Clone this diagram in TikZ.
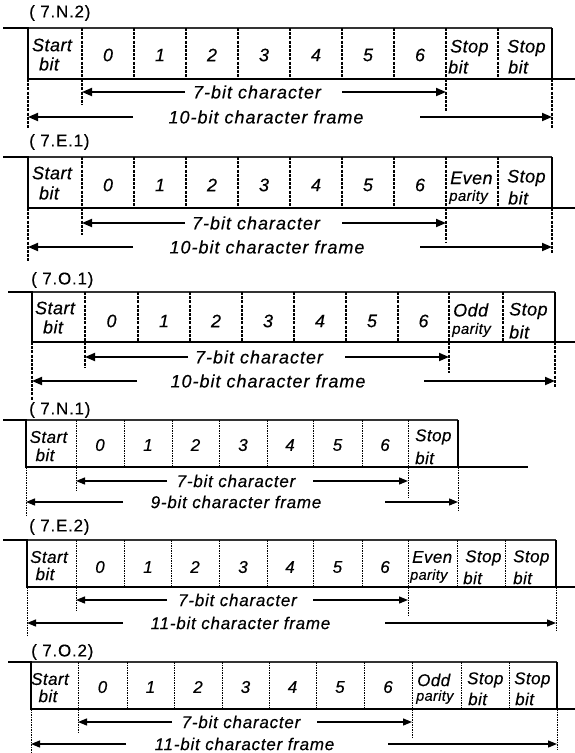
\documentclass[tikz,border=0pt]{standalone}
\usepackage{fontspec}
\setmainfont{Liberation Sans}
\newfontfamily\spfont{Liberation Sans}[LetterSpace=5.5,FakeBold=0.35]
\newfontfamily\spfontB{Liberation Sans}[LetterSpace=4.5,FakeBold=0.3]
\newfontfamily\cellfont{Liberation Sans}[LetterSpace=2.5,FakeBold=0.35]
\usetikzlibrary{arrows.meta}
\tikzset{
  sigA/.style={line width=2.6pt},
  sigB/.style={line width=2.1pt},
  topA/.style={line width=2pt, draw=black!80},
  topB/.style={line width=1.8pt, draw=black!80},
  edgeA/.style={line width=2.8pt},
  edgeB/.style={line width=2.4pt},
  divA/.style={line width=1.6pt, dash pattern=on 3pt off 1.2pt},
  divB/.style={line width=1pt, dash pattern=on 1.5pt off 1pt},
  arrA/.style={line width=1.8pt, -{Triangle[length=10pt,width=8pt]}},
  arrB/.style={line width=1.3pt, -{Triangle[length=9pt,width=7pt]}},
  ttl/.style={font=\spfontB\fontsize{17}{20}\selectfont, inner sep=0pt, anchor=west},
  txA/.style={font=\spfont\itshape\fontsize{18}{20}\selectfont, inner sep=0pt},
  txB/.style={font=\spfontB\itshape\fontsize{17}{19}\selectfont, inner sep=0pt},
  clA/.style={font=\cellfont\itshape\fontsize{18}{20}\selectfont, inner sep=0pt},
  clB/.style={font=\cellfont\itshape\fontsize{17}{19}\selectfont, inner sep=0pt},
  smA/.style={font=\cellfont\itshape\fontsize{15}{17}\selectfont, inner sep=0pt},
  smB/.style={font=\cellfont\itshape\fontsize{14.5}{17}\selectfont, inner sep=0pt},
}
\begin{document}
\begin{tikzpicture}[x=1pt,y=-1pt]
\useasboundingbox (0,0) rectangle (575,753);
% ================= Panel 1 (7.N.2)
\node[ttl] (p1lab) at (29,13) {( 7.N.2)};
\draw[topA] (28,28) -- (552,28);
\foreach \x in {82,134,186,238,290,342,394,446,498} \draw[divA] (\x,28) -- (\x,79);
\draw[sigA] (3,28) -- (28,28) -- (28,79) -- (575,79);
\draw[edgeA] (552,28) -- (552,79);
\node[clA] (p1s1) at (52,45) {Start};
\node[clA] (p1s2) at (49,64) {bit};
\foreach \x [count=\i from 0] in {108,160,212,264,316,368,420}
  \node[clA] (p1d\i) at (\x,55) {\i};
\node[clA,anchor=west] (p1a1) at (450,48) {Stop};
\node[clA,anchor=west] (p1a2) at (448,67) {bit};
\node[clA,anchor=west] (p1b1) at (507,48) {Stop};
\node[clA,anchor=west] (p1b2) at (508,67) {bit};
\draw[divA] (82,79) -- (82,105);
\draw[divA] (446,79) -- (446,112);
\draw[divA] (28,79) -- (28,129);
\draw[divA] (552,79) -- (552,128);
\node[txA] (p1c) at (257,92) {7-bit character};
\node[txA] (p1f) at (266,117) {10-bit character frame};
\coordinate (p1c1) at (185,92); \coordinate (p1c2) at (82,92);
\coordinate (p1c3) at (342,92); \coordinate (p1c4) at (446,92);
\coordinate (p1f1) at (133,117); \coordinate (p1f2) at (28,117);
\coordinate (p1f3) at (420,117); \coordinate (p1f4) at (552,117);
\draw[arrA] (p1c1) -- (p1c2);
\draw[arrA] (p1c3) -- (p1c4);
\draw[arrA] (p1f1) -- (p1f2);
\draw[arrA] (p1f3) -- (p1f4);
% ================= Panel 2 (7.E.1)
\node[ttl] (p2lab) at (29,142) {( 7.E.1)};
\draw[topA] (28,157) -- (552,157);
\foreach \x in {82,134,186,238,290,342,394,446,498} \draw[divA] (\x,157) -- (\x,208);
\draw[sigA] (3,157) -- (28,157) -- (28,208) -- (575,208);
\draw[edgeA] (552,157) -- (552,208);
\node[clA] (p2s1) at (52,173) {Start};
\node[clA] (p2s2) at (49,193) {bit};
\foreach \x [count=\i from 0] in {108,160,212,264,316,368,420}
  \node[clA] (p2d\i) at (\x,185) {\i};
\node[clA,anchor=west] (p2a1) at (450,178) {Even};
\node[smA,anchor=west] (p2a2) at (449,197) {parity};
\node[clA,anchor=west] (p2b1) at (507,178) {Stop};
\node[clA,anchor=west] (p2b2) at (508,198) {bit};
\draw[divA] (82,208) -- (82,235);
\draw[divA] (446,208) -- (446,242);
\draw[divA] (28,208) -- (28,262);
\draw[divA] (552,208) -- (552,253);
\node[txA] (p2c) at (256,223) {7-bit character};
\node[txA] (p2f) at (267,247) {10-bit character frame};
\coordinate (p2c1) at (185,223); \coordinate (p2c2) at (82,223);
\coordinate (p2c3) at (342,223); \coordinate (p2c4) at (446,223);
\coordinate (p2f1) at (133,247); \coordinate (p2f2) at (28,247);
\coordinate (p2f3) at (420,247); \coordinate (p2f4) at (552,247);
\draw[arrA] (p2c1) -- (p2c2);
\draw[arrA] (p2c3) -- (p2c4);
\draw[arrA] (p2f1) -- (p2f2);
\draw[arrA] (p2f3) -- (p2f4);
% ================= Panel 3 (7.O.1)
\node[ttl] (p3lab) at (31,280) {( 7.O.1)};
\draw[topA] (32,292) -- (555,292);
\foreach \x in {85,138,190,242,294,346,398,449,503} \draw[divA] (\x,292) -- (\x,342);
\draw[sigA] (8,292) -- (32,292) -- (32,342) -- (575,342);
\draw[edgeA] (555,292) -- (555,342);
\node[clA] (p3s1) at (55,308) {Start};
\node[clA] (p3s2) at (53,327) {bit};
\foreach \x [count=\i from 0] in {111.5,164,216,268,320,372,423.5}
  \node[clA] (p3d\i) at (\x,321) {\i};
\node[clA,anchor=west] (p3a1) at (453,310) {Odd};
\node[smA,anchor=west] (p3a2) at (452,330) {parity};
\node[clA,anchor=west] (p3b1) at (509,311) {Stop};
\node[clA,anchor=west] (p3b2) at (509,332) {bit};
\draw[divA] (85,342) -- (85,368);
\draw[divA] (449,342) -- (449,373);
\draw[divA] (32,342) -- (32,400);
\draw[divA] (555,342) -- (555,388);
\node[txA] (p3c) at (259,357) {7-bit character};
\node[txA] (p3f) at (268,381) {10-bit character frame};
\coordinate (p3c1) at (188,357); \coordinate (p3c2) at (85,357);
\coordinate (p3c3) at (345,357); \coordinate (p3c4) at (449,357);
\coordinate (p3f1) at (137,381); \coordinate (p3f2) at (32,381);
\coordinate (p3f3) at (424,381); \coordinate (p3f4) at (555,381);
\draw[arrA] (p3c1) -- (p3c2);
\draw[arrA] (p3c3) -- (p3c4);
\draw[arrA] (p3f1) -- (p3f2);
\draw[arrA] (p3f3) -- (p3f4);
% ================= Panel 4 (7.N.1)
\node[ttl] (p4lab) at (29,410) {( 7.N.1)};
\draw[topB] (26,420) -- (458,420);
\foreach \x in {76,124,172,219,267,313,362,408} \draw[divB] (\x,420) -- (\x,467);
\draw[sigB] (3,420) -- (26,420) -- (26,467) -- (528,467);
\draw[edgeB] (458,420) -- (458,467);
\node[clB] (p4s1) at (48.5,437) {Start};
\node[clB] (p4s2) at (45,455) {bit};
\foreach \x [count=\i from 0] in {100,148,195.5,243,290,337.5,385}
  \node[clB] (p4d\i) at (\x,445) {\i};
\node[clB,anchor=west] (p4a1) at (415,437) {Stop};
\node[clB,anchor=west] (p4a2) at (415,458) {bit};
\draw[divB] (76,467) -- (76,492);
\draw[divB] (408,467) -- (408,498);
\draw[divB] (26,467) -- (26,515);
\draw[divB] (458,467) -- (458,512);
\node[txB] (p4c) at (236,481) {7-bit character};
\node[txB] (p4f) at (236,502) {9-bit character frame};
\coordinate (p4c1) at (167,481); \coordinate (p4c2) at (76,481);
\coordinate (p4c3) at (313,481); \coordinate (p4c4) at (408,481);
\coordinate (p4f1) at (123,502); \coordinate (p4f2) at (26,502);
\coordinate (p4f3) at (385,502); \coordinate (p4f4) at (458,502);
\draw[arrB] (p4c1) -- (p4c2);
\draw[arrB] (p4c3) -- (p4c4);
\draw[arrB] (p4f1) -- (p4f2);
\draw[arrB] (p4f3) -- (p4f4);
% ================= Panel 5 (7.E.2)
\node[ttl] (p5lab) at (29,527) {( 7.E.2)};
\draw[topB] (27,540) -- (556,540);
\foreach \x in {76,124,171,219,267,313,362,408,457,505} \draw[divB] (\x,540) -- (\x,587);
\draw[sigB] (3,540) -- (27,540) -- (27,587) -- (575,587);
\draw[edgeB] (556,540) -- (556,587);
\node[clB] (p5s1) at (49,557) {Start};
\node[clB] (p5s2) at (45,574) {bit};
\foreach \x [count=\i from 0] in {100,148,195,243,290,337.5,385}
  \node[clB] (p5d\i) at (\x,567) {\i};
\node[clB,anchor=west] (p5a1) at (412,557) {Even};
\node[smB,anchor=west] (p5a2) at (410,576) {parity};
\node[clB,anchor=west] (p5b1) at (465,558) {Stop};
\node[clB,anchor=west] (p5b2) at (463,578) {bit};
\node[clB,anchor=west] (p5e1) at (513,558) {Stop};
\node[clB,anchor=west] (p5e2) at (513,578) {bit};
\draw[divB] (76,587) -- (76,610);
\draw[divB] (408,587) -- (408,617);
\draw[divB] (27,587) -- (27,635);
\draw[divB] (556,587) -- (556,632);
\node[txB] (p5c) at (237.5,600) {7-bit character};
\node[txB] (p5f) at (240.5,623) {11-bit character frame};
\coordinate (p5c1) at (167,600); \coordinate (p5c2) at (76,600);
\coordinate (p5c3) at (313,600); \coordinate (p5c4) at (408,600);
\coordinate (p5f1) at (123,623); \coordinate (p5f2) at (27,623);
\coordinate (p5f3) at (385,623); \coordinate (p5f4) at (556,623);
\draw[arrB] (p5c1) -- (p5c2);
\draw[arrB] (p5c3) -- (p5c4);
\draw[arrB] (p5f1) -- (p5f2);
\draw[arrB] (p5f3) -- (p5f4);
% ================= Panel 6 (7.O.2)
\node[ttl] (p6lab) at (31,652) {( 7.O.2)};
\draw[topB] (31,662) -- (557,662);
\foreach \x in {78,127,174,222,269,316,364,412,461,509} \draw[divB] (\x,662) -- (\x,709);
\draw[sigB] (8,662) -- (31,662) -- (31,709) -- (575,709);
\draw[edgeB] (557,662) -- (557,709);
\node[clB] (p6s1) at (50,679) {Start};
\node[clB] (p6s2) at (48,696) {bit};
\foreach \x [count=\i from 0] in {102.5,150.5,198,245.5,292.5,340,388}
  \node[clB] (p6d\i) at (\x,687) {\i};
\node[clB,anchor=west] (p6a1) at (417,680) {Odd};
\node[smB,anchor=west] (p6a2) at (416,697) {parity};
\node[clB,anchor=west] (p6b1) at (467,680) {Stop};
\node[clB,anchor=west] (p6b2) at (468,699) {bit};
\node[clB,anchor=west] (p6e1) at (514,680) {Stop};
\node[clB,anchor=west] (p6e2) at (515,699) {bit};
\draw[divB] (78,709) -- (78,732);
\draw[divB] (412,709) -- (412,738);
\draw[divB] (31,709) -- (31,753);
\draw[divB] (557,709) -- (557,750);
\node[txB] (p6c) at (241,722) {7-bit character};
\node[txB] (p6f) at (244.5,744) {11-bit character frame};
\coordinate (p6c1) at (172,722); \coordinate (p6c2) at (78,722);
\coordinate (p6c3) at (317,722); \coordinate (p6c4) at (412,722);
\coordinate (p6f1) at (126,744); \coordinate (p6f2) at (31,744);
\coordinate (p6f3) at (388,744); \coordinate (p6f4) at (557,744);
\draw[arrB] (p6c1) -- (p6c2);
\draw[arrB] (p6c3) -- (p6c4);
\draw[arrB] (p6f1) -- (p6f2);
\draw[arrB] (p6f3) -- (p6f4);
\end{tikzpicture}
\end{document}
